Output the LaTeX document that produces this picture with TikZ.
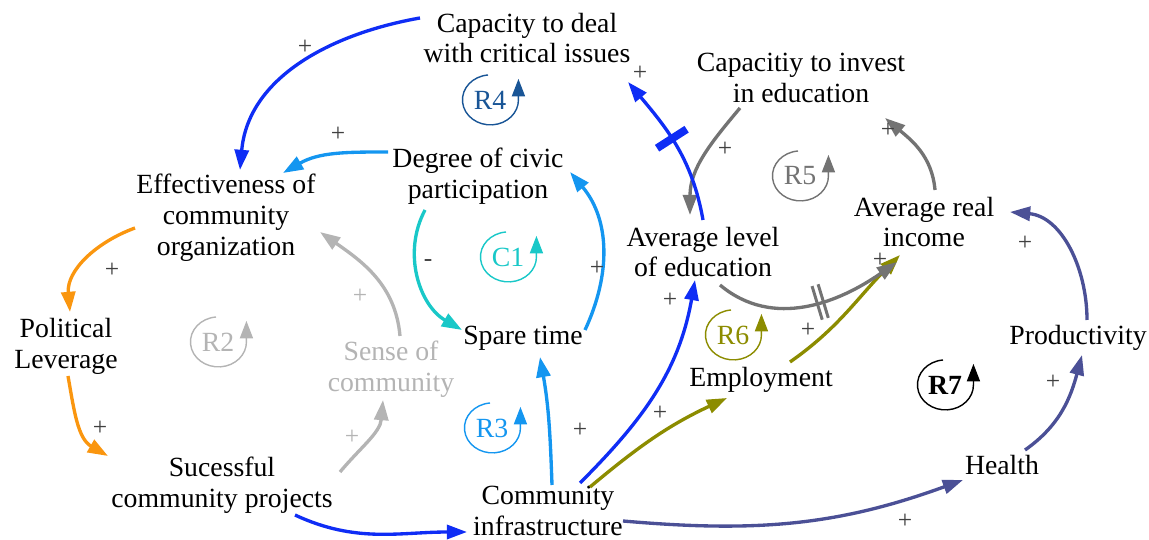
\documentclass[tikz,border=0pt]{standalone}
\usepackage{fontspec}
\setmainfont{Liberation Serif}
\usetikzlibrary{arrows.meta,decorations.markings}
\definecolor{bblue}{RGB}{15,45,245}
\definecolor{lblue}{RGB}{20,150,240}
\definecolor{cyanc}{RGB}{25,200,200}
\definecolor{orangec}{RGB}{250,150,15}
\definecolor{lgrey}{RGB}{180,180,180}
\definecolor{dgrey}{RGB}{115,115,115}
\definecolor{olive}{RGB}{140,140,0}
\definecolor{slate}{RGB}{75,80,150}
\definecolor{rfour}{RGB}{25,85,150}
\newcommand\loopsym[4]{%
  \node[text=#3,inner sep=0pt] (#1) at (#2) {#4};
  \draw[#3,line width=0.8pt,-{Triangle[length=10pt,width=7.5pt]}]
    ([shift={(-2,25)}]#1.center) arc[start angle=95,end angle=360,x radius=28,y radius=25] -- ++(0,21);
}
\begin{document}
\begin{tikzpicture}[x=0.02cm,y=0.02cm,font=\fontsize{15.8}{17.6}\selectfont,
  var/.style={align=center,inner sep=1pt},
  lnk/.style={line width=1.9pt,-{Triangle[length=11.5pt,width=8pt]}},
  sgn/.style={text=black!75,inner sep=0pt,font=\fontsize{14.5}{14.5}\selectfont},
  dly/.style={postaction={decorate,decoration={markings,mark=at position #1 with {\draw[line width=4.5pt,-] (0,-10pt) -- (0,10pt);}}}},
  ddly/.style={postaction={decorate,decoration={markings,mark=at position #1 with {\draw[line width=1.7pt,-] (-1.8pt,-10pt) -- (-1.8pt,10pt) (1.8pt,-10pt) -- (1.8pt,10pt);}}}}
]
\useasboundingbox (0,0) rectangle (1149,540);

% variables
\node[var] (cap) at (527,502) {Capacity to deal\\with critical issues};
\node[var] (inv) at (801,462) {Capacitiy to invest\\in education};
\node[var] (eff) at (226,322) {Effectiveness of\\community\\organization};
\node[var] (civ) at (478,364) {Degree of civic\\participation};
\node[var] (inc) at (924,318) {Average real\\income};
\node[var] (edu) at (703,288) {Average level\\of education};
\node[var] (pol) at (66,194) {Political\\Leverage};
\node[var] (spare) at (523,202) {Spare time};
\node[var,text=lgrey] (sense) at (391,171) {Sense of\\community};
\node[var] (prod) at (1078,202) {Productivity};
\node[var] (emp) at (761,160) {Employment};
\node[var] (health) at (1002,75) {Health};
\node[var] (proj) at (222,55) {Sucessful\\community projects};
\node[var] (infra) at (548,29) {Community\\infrastructure};

% loop symbols
\loopsym{lR4}{490,440}{rfour}{R4}
\loopsym{lR5}{800,364}{dgrey}{R5}
\loopsym{lC1}{508,283}{cyanc}{C1}
\loopsym{lR2}{218,198}{lgrey}{R2}
\loopsym{lR6}{733,205}{olive}{R6}
\loopsym{lR7}{945,155}{black}{\textbf{R7}}
\loopsym{lR3}{492,112}{lblue}{R3}

% links
\draw[lnk,bblue] ([shift={(-107,20)}]cap.center) to[out=190,in=85] ([shift={(14,48)}]eff.center);
\draw[lnk,lblue] ([shift={(-90,24)}]civ.center) to[out=180,in=30] ([shift={(57,45)}]eff.center);
\draw[lnk,orangec] ([shift={(-91,-10)}]eff.center) to[out=200,in=95] ([shift={(4,34)}]pol.center);
\draw[lnk,orangec] ([shift={(2,-30)}]pol.center) to[out=-80,in=150] ([shift={(-114,29)}]proj.center);
\draw[lnk,lgrey] ([shift={(118,13)}]proj.center) to[out=50,in=-95] ([shift={(-8,-31)}]sense.center);
\draw[lnk,lgrey] ([shift={(9,33)}]sense.center) to[out=95,in=-35] ([shift={(94,-14)}]eff.center);
\draw[lnk,bblue] ([shift={(73,-30)}]proj.center) to[out=-25,in=180] ([shift={(-81,-21)}]infra.center);
\draw[lnk,lblue] ([shift={(4,26)}]infra.center) to[out=92,in=-80] ([shift={(17,-19)}]spare.center);
\draw[lnk,lblue] ([shift={(62,8)}]spare.center) to[out=65,in=-50] ([shift={(92,4)}]civ.center);
\draw[lnk,cyanc] ([shift={(-53,-34)}]civ.center) to[out=-118,in=150] ([shift={(-61,8)}]spare.center);
\draw[lnk,bblue] ([shift={(32,28)}]infra.center) to[out=45,in=-100] ([shift={(-8,-28)}]edu.center);
\draw[lnk,olive] ([shift={(42,24)}]infra.center) to[out=40,in=-155] ([shift={(-34,-18)}]emp.center);
\draw[lnk,olive] ([shift={(29,18)}]emp.center) to[out=35,in=-135] ([shift={(-24,-33)}]inc.center);
\draw[lnk,slate] ([shift={(75,-10)}]infra.center) to[out=-5,in=200] ([shift={(-39,-15)}]health.center);
\draw[lnk,slate] ([shift={(23,15)}]health.center) to[out=35,in=-105] ([shift={(4,-17)}]prod.center);
\draw[lnk,slate] ([shift={(9,18)}]prod.center) to[out=90,in=-5] ([shift={(86,10)}]inc.center);
\draw[lnk,dgrey,ddly=0.55] ([shift={(17,-33)}]edu.center) to[out=-40,in=215] ([shift={(-27,-40)}]inc.center);
\draw[lnk,dgrey] ([shift={(11,32)}]inc.center) to[out=95,in=-40] ([shift={(84,-40)}]inv.center);
\draw[lnk,dgrey] ([shift={(-61,-30)}]inv.center) to[out=230,in=90] ([shift={(-13,37)}]edu.center);
\draw[lnk,bblue,dly=0.55] ([shift={(0,32)}]edu.center) to[out=100,in=-50] ([shift={(101,-44)}]cap.center);

% polarity signs
\node[sgn] (s1) at (305,493) {+};
\node[sgn] (s2) at (338,406) {+};
\node[sgn] (s3) at (112,270) {+};
\node[sgn] (s4) at (100,112) {+};
\node[sgn,text=lgrey] (s5) at (352,103) {+};
\node[sgn,text=lgrey] (s6) at (360,244) {+};
\node[sgn] (s8) at (580,110) {+};
\node[sgn] (s9) at (597,272) {+};
\node[sgn] (s10) at (428,277) {-};
\node[sgn] (s11) at (670,240) {+};
\node[sgn] (s12) at (660,127) {+};
\node[sgn] (s13) at (808,210) {+};
\node[sgn] (s14) at (905,19) {+};
\node[sgn] (s15) at (1053,158) {+};
\node[sgn] (s16) at (1025,297) {+};
\node[sgn] (s17) at (880,280) {+};
\node[sgn] (s18) at (888,410) {+};
\node[sgn] (s19) at (725,391) {+};
\node[sgn] (s20) at (640,467) {+};
\end{tikzpicture}
\end{document}
